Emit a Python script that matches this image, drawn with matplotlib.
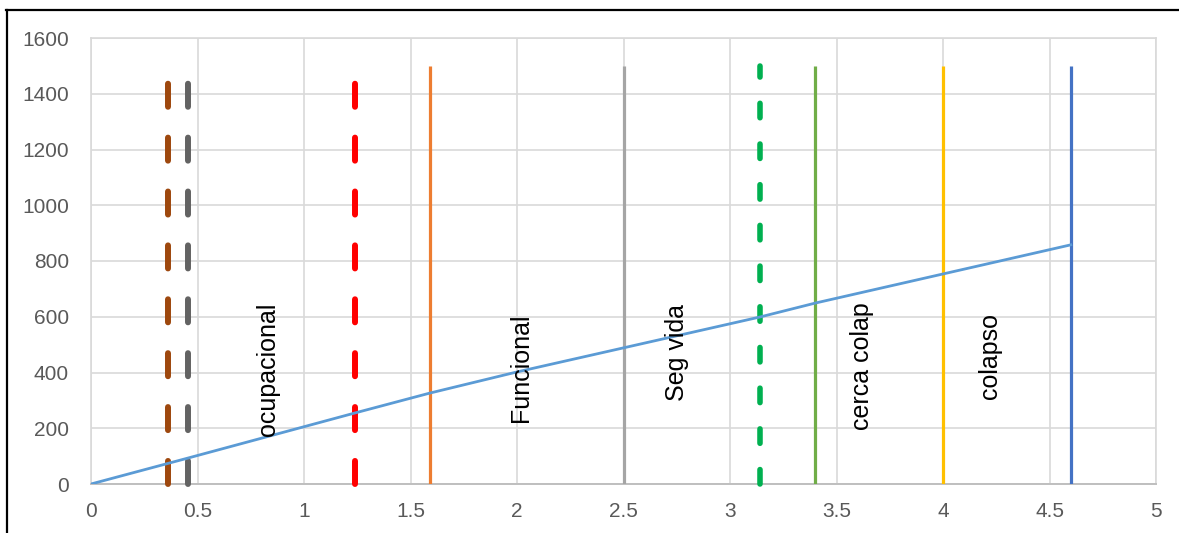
import matplotlib.pyplot as plt
from matplotlib.lines import Line2D

plt.rcParams['font.family'] = ['Liberation Sans', 'DejaVu Sans']
plt.rcParams['lines.scale_dashes'] = False

# curva de capacidad (desplazamiento vs cortante)
curve_x = [0, 0.455, 1.24, 1.59, 2.0, 3.14, 3.4, 4.6]
curve_y = [0, 93, 255, 326, 402, 599, 649, 858]

# limites de desempeno (lineas verticales)
lim_solid_x = [1.59, 2.5, 3.4, 4.0, 4.6]
lim_solid_c = ['#ed7d31', '#a5a5a5', '#70ad47', '#ffc000', '#4472c4']
lim_dash_x = [0.36, 0.455, 1.24]
lim_dash_c = ['#9e480e', '#636363', '#ff0000']
lim_green_x = 3.14
lim_top = 1500

labels = ['ocupacional', 'Funcional', 'Seg vida', 'cerca colap', 'colapso']
label_x = [0.83, 2.02, 2.75, 3.62, 4.22]
label_y = [410, 416, 473, 423, 459]

fig = plt.figure(figsize=(11.79, 5.33), dpi=100)
ax = fig.add_axes([91 / 1179, 1 - 484 / 533, (1156 - 91) / 1179, (484 - 38) / 533])

for x, c in zip(lim_solid_x, lim_solid_c):
    ax.plot([x, x], [0, lim_top], color=c, lw=2.3, solid_capstyle='butt', zorder=3)

for x, c in zip(lim_dash_x, lim_dash_c):
    ax.plot([x, x], [0, lim_top], color=c, lw=4.3, dashes=(16.6, 22.2),
            dash_capstyle='round', clip_on=False, zorder=3)

ax.plot([lim_green_x, lim_green_x], [0, lim_top], color='#00b050', lw=4.0,
        dashes=(10.4, 18.9), dash_capstyle='round', clip_on=False, zorder=3)

ax.plot(curve_x, curve_y, color='#5b9bd5', lw=2.0, zorder=4)

for t, x, y in zip(labels, label_x, label_y):
    ax.text(x, y, t, rotation=90, ha='center', va='center', fontsize=18,
            color='black', zorder=5)

ax.set_xlim(0, 5)
ax.set_ylim(0, 1600)
ax.set_xticks([0, 0.5, 1, 1.5, 2, 2.5, 3, 3.5, 4, 4.5, 5])
ax.set_xticklabels(['0', '0.5', '1', '1.5', '2', '2.5', '3', '3.5', '4', '4.5', '5'])
ax.set_yticks(range(0, 1601, 200))
ax.tick_params(axis='both', length=0, labelsize=15, labelcolor='#595959')
ax.tick_params(axis='y', pad=16)
ax.tick_params(axis='x', pad=13)
ax.grid(True, color='#d9d9d9', lw=1.2)
ax.set_axisbelow(True)
for s in ['left', 'top', 'right']:
    ax.spines[s].set_color('#d9d9d9')
    ax.spines[s].set_linewidth(1.2)
ax.spines['bottom'].set_color('#bfbfbf')
ax.spines['bottom'].set_linewidth(1.4)

# marco negro del recuadro
fig.add_artist(Line2D([7 / 1179, 7 / 1179], [0, 1 - 10 / 533], color='black', lw=1.6))
fig.add_artist(Line2D([6 / 1179, 1], [1 - 10 / 533, 1 - 10 / 533], color='black', lw=1.6))

fig.savefig('out.png', dpi=100)
